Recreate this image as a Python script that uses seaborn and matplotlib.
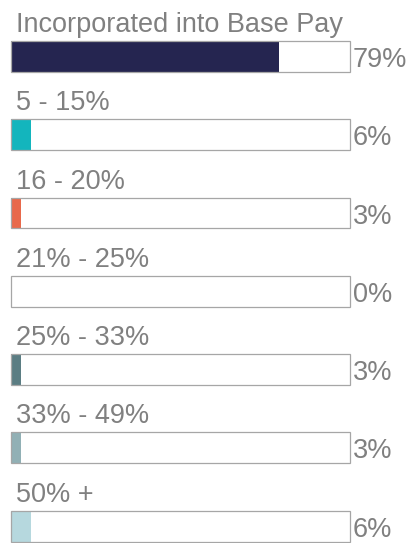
import matplotlib
matplotlib.use("Agg")
import matplotlib.pyplot as plt
import seaborn as sns
import pandas as pd

categories = [
    "Incorporated into Base Pay",
    "5 - 15%",
    "16 - 20%",
    "21% - 25%",
    "25% - 33%",
    "33% - 49%",
    "50% +",
]
values = [79, 6, 3, 0, 3, 3, 6]
value_labels = ["79%", "6%", "3%", "0%", "3%", "3%", "6%"]
colors = ["#252550", "#13B5BD", "#E8694B", "#FFFFFF", "#5B7D83", "#91B0B5", "#B6D8DE"]

sns.set_theme(style="white")
plt.rcParams["font.family"] = ["Liberation Sans", "DejaVu Sans"]

df = pd.DataFrame({"category": categories, "value": values, "full": [100] * len(values)})

fig = plt.figure(figsize=(4.11, 5.43), dpi=100)
ax = fig.add_axes([0, 0, 1, 1])

bar_w = 0.396
# outlined track for each row
sns.barplot(data=df, y="category", x="full", orient="h", color="white",
            edgecolor="#A6A6A6", linewidth=0.9, width=bar_w, saturation=1,
            ax=ax, zorder=1)
# filled share
sns.barplot(data=df, y="category", x="value", orient="h", hue="category",
            palette=colors, legend=False, width=bar_w, linewidth=0,
            saturation=1, ax=ax, zorder=2)
# keep track outlines above the fills
for p in ax.patches[:len(categories)]:
    p.set_zorder(3)
    p.set_facecolor("none")

text_color = "#808080"
for i, (cat, lab) in enumerate(zip(categories, value_labels)):
    ax.annotate(cat, xy=(0, i), xytext=(5, 24.5), textcoords="offset pixels",
                ha="left", va="baseline", fontsize=19.5, color=text_color)
    ax.annotate(lab, xy=(100, i), xytext=(3, -10.5), textcoords="offset pixels",
                ha="left", va="baseline", fontsize=19.5, color=text_color)

ax.set_xlim(-11 / 3.39, 400 / 3.39)
ax.set_ylim(6.217, -0.722)
ax.set_axis_off()

fig.savefig("out.png", dpi=100)
